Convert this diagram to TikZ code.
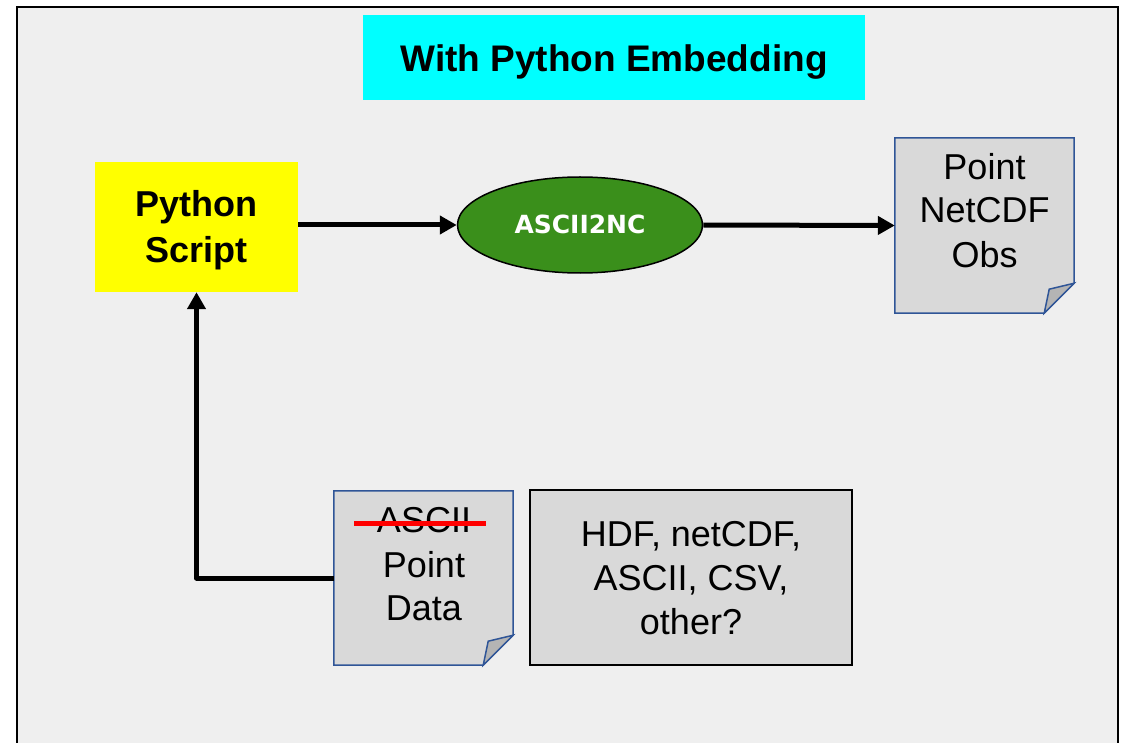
\documentclass[tikz,border=0pt]{standalone}
\usepackage{fontspec}
\setmainfont{Liberation Sans}
\newfontfamily\widesans{DejaVu Sans}
\usetikzlibrary{arrows.meta,calc,shapes.geometric}
\definecolor{panelgray}{HTML}{EFEFEF}
\definecolor{docgray}{HTML}{D9D9D9}
\definecolor{flapgray}{HTML}{B4B4B4}
\definecolor{docblue}{HTML}{2F5597}
\definecolor{procgreen}{HTML}{3A8F1B}
\definecolor{bannercyan}{RGB}{0,255,255}
\definecolor{boxyellow}{RGB}{255,255,0}
\tikzset{
  flow/.style={line width=5pt, line join=round, -{Triangle[length=17pt,width=18pt]}},
  doctext/.style={font=\fontsize{36}{44}\selectfont, anchor=base, inner sep=0pt},
  boldtext/.style={font=\fontsize{36}{44}\selectfont\bfseries, anchor=base, inner sep=0pt},
  docshape/.style={minimum width=179pt, minimum height=175pt, inner sep=0pt, draw=none},
  docline/.style={draw=docblue, line width=1.5pt, line join=miter},
}
% folded-corner document outline drawn around a named node
\newcommand{\foldeddoc}[1]{%
  \draw[docline, fill=docgray]
    (#1.north west) -- (#1.north east) -- ([yshift=30pt]#1.south east)
    -- ([xshift=-30pt]#1.south east) -- (#1.south west) -- cycle;
  \draw[docline, fill=flapgray]
    ([xshift=-30pt]#1.south east) -- ([xshift=-25pt,yshift=24pt]#1.south east)
    -- ([yshift=30pt]#1.south east) -- cycle;
}
\begin{document}
\begin{tikzpicture}[x=1pt,y=-1pt]
\useasboundingbox (0,0) rectangle (1129,743);
\fill[white] (0,0) rectangle (1129,743);
\begin{scope}
  \clip (0,0) rectangle (1129,743);
  \draw[line width=2pt, fill=panelgray] (17,7) rectangle (1118,790);
\end{scope}

% title banner
\fill[bannercyan] (363,15) rectangle (865,100);
\node[boldtext, font=\fontsize{37}{44}\selectfont\bfseries] (title) at (614,72) {With Python Embedding};

% python script box
\node[fill=boxyellow, minimum width=203pt, minimum height=130pt, inner sep=0pt] (py) at (196.5,227) {};
\node[boldtext] (pyA) at (196.5,217) {Python};
\node[boldtext] (pyB) at (196.5,262) {Script};

% ascii2nc process
\node[ellipse, draw=black, line width=1.5pt, fill=procgreen, minimum width=245pt, minimum height=96pt, inner sep=0pt] (asc) at (580,225) {};
\node[anchor=base, inner sep=0pt, text=white, font=\fontsize{25}{30}\widesans\bfseries] (ascT) at (580,234) {ASCII2NC};

% output document
\node[docshape] (obs) at (984.5,225.5) {};
\foldeddoc{obs}
\node[doctext] (obsA) at (984.5,180) {Point};
\node[doctext] (obsB) at (984.5,223) {NetCDF};
\node[doctext] (obsC) at (984.5,268) {Obs};

% input document
\node[docshape, minimum height=174pt] (pd) at (423.5,578) {};
\foldeddoc{pd}
\node[doctext] (pdA) at (424,532) {ASCII};
\draw[red, line width=5pt] (354,523) -- (486,523);
\node[doctext] (pdB) at (424,577) {Point};
\node[doctext] (pdC) at (424,620) {Data};

% formats box
\node[draw=black, line width=1.5pt, fill=docgray, minimum width=322pt, minimum height=175pt, inner sep=0pt] (fmt) at (691,577.5) {};
\node[doctext] (fmtA) at (691,546) {HDF, netCDF,};
\node[doctext] (fmtB) at (691,590) {ASCII, CSV,};
\node[doctext] (fmtC) at (691,634) {other?};

% connectors
\draw[flow] (py.east |- asc.west) -- (asc.west);
\draw[flow] (asc.east) -- (obs.west);
\draw[flow] (pd.west) -- (py.south |- pd.west) -- (py.south);
\end{tikzpicture}
\end{document}
